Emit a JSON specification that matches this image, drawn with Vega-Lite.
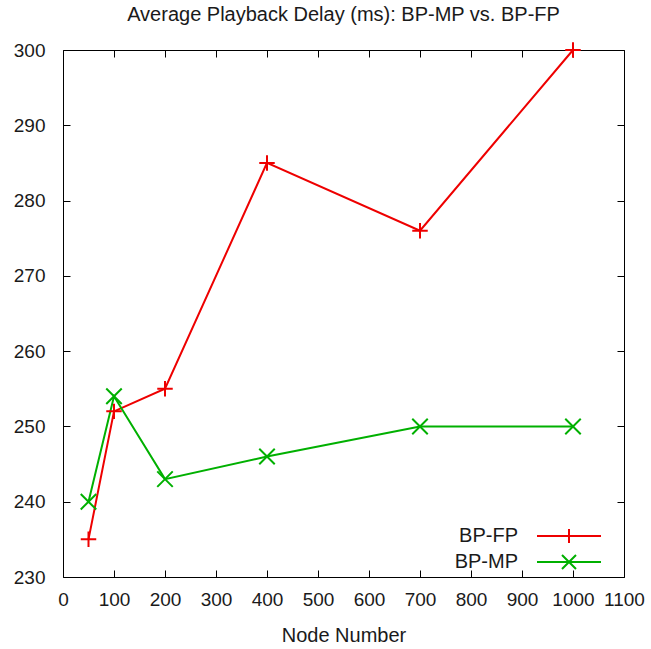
{
  "$schema": "https://vega.github.io/schema/vega-lite/v6.json",
  "width": 561,
  "height": 527,
  "autosize": {"type": "none"},
  "padding": {"left": 63, "top": 50, "right": 27, "bottom": 72},
  "background": "white",
  "title": {
    "text": "Average Playback Delay (ms): BP-MP vs. BP-FP",
    "font": "Liberation Sans",
    "fontSize": 20,
    "fontWeight": "normal",
    "color": "#1a1a1a",
    "anchor": "middle",
    "offset": 13
  },
  "data": {
    "values": [
      {"nodes": 50, "delay": 235, "series": "BP-FP"},
      {"nodes": 100, "delay": 252, "series": "BP-FP"},
      {"nodes": 200, "delay": 255, "series": "BP-FP"},
      {"nodes": 400, "delay": 285, "series": "BP-FP"},
      {"nodes": 700, "delay": 276, "series": "BP-FP"},
      {"nodes": 1000, "delay": 300, "series": "BP-FP"},
      {"nodes": 50, "delay": 240, "series": "BP-MP"},
      {"nodes": 100, "delay": 254, "series": "BP-MP"},
      {"nodes": 200, "delay": 243, "series": "BP-MP"},
      {"nodes": 400, "delay": 246, "series": "BP-MP"},
      {"nodes": 700, "delay": 250, "series": "BP-MP"},
      {"nodes": 1000, "delay": 250, "series": "BP-MP"}
    ]
  },
  "config": {
    "view": {"stroke": null},
    "axis": {
      "grid": false,
      "domainColor": "#000000",
      "domainWidth": 1,
      "tickColor": "#000000",
      "tickSize": -7,
      "tickWidth": 1,
      "labelFont": "Liberation Sans",
      "labelFontSize": 19,
      "labelColor": "#1a1a1a",
      "titleFont": "Liberation Sans",
      "titleFontSize": 20,
      "titleFontWeight": "normal",
      "titleColor": "#1a1a1a"
    }
  },
  "resolve": {"axis": {"x": "independent", "y": "independent"}},
  "layer": [
    {
      "mark": {"type": "line", "strokeWidth": 2},
      "encoding": {
        "x": {
          "field": "nodes",
          "type": "quantitative",
          "scale": {"domain": [0, 1100], "nice": false, "zero": false},
          "axis": {
            "orient": "bottom",
            "title": "Node Number",
            "format": "d",
            "values": [0, 100, 200, 300, 400, 500, 600, 700, 800, 900, 1000, 1100],
            "labelPadding": 20,
            "titlePadding": 16,
            "labelFlush": false
          }
        },
        "y": {
          "field": "delay",
          "type": "quantitative",
          "scale": {"domain": [230, 300], "nice": false, "zero": false},
          "axis": {
            "orient": "left",
            "title": null,
            "values": [230, 240, 250, 260, 270, 280, 290, 300],
            "labelPadding": 25
          }
        },
        "color": {
          "field": "series",
          "type": "nominal",
          "sort": ["BP-FP", "BP-MP"],
          "scale": {"domain": ["BP-FP", "BP-MP"], "range": ["#ee0000", "#00b000"]},
          "legend": {
            "title": null,
            "orient": "none",
            "legendX": 496,
            "legendY": 476,
            "labelFont": "Liberation Sans",
            "labelFontSize": 20,
            "labelColor": "#1a1a1a",
            "labelAlign": "right",
            "labelOffset": -61,
            "symbolSize": 100,
            "symbolStrokeWidth": 2,
            "rowPadding": 4,
            "encode": {
              "symbols": {
                "update": {
                  "shape": {"signal": "datum.value === 'BP-FP' ? 'M-6.4,0H6.4M0,-1.4V1.4' : 'M-6.4,0H6.4M-1.4,-1.4L1.4,1.4M-1.4,1.4L1.4,-1.4'"}
                }
              }
            }
          }
        }
      }
    },
    {
      "transform": [{"filter": "datum.series === 'BP-FP'"}],
      "mark": {"type": "point", "filled": false, "strokeWidth": 2, "opacity": 1, "shape": "M-1,0H1M0,-1V1", "size": 240},
      "encoding": {
        "x": {
          "field": "nodes",
          "type": "quantitative",
          "axis": {
            "orient": "top",
            "title": null,
            "labels": false,
            "values": [0, 100, 200, 300, 400, 500, 600, 700, 800, 900, 1000, 1100]
          }
        },
        "y": {
          "field": "delay",
          "type": "quantitative",
          "axis": {
            "orient": "right",
            "title": null,
            "labels": false,
            "values": [230, 240, 250, 260, 270, 280, 290, 300]
          }
        },
        "color": {"field": "series", "type": "nominal", "legend": null}
      }
    },
    {
      "transform": [{"filter": "datum.series === 'BP-MP'"}],
      "mark": {"type": "point", "filled": false, "strokeWidth": 2, "opacity": 1, "shape": "M-1,-1L1,1M-1,1L1,-1", "size": 240},
      "encoding": {
        "x": {"field": "nodes", "type": "quantitative", "axis": null},
        "y": {"field": "delay", "type": "quantitative", "axis": null},
        "color": {"field": "series", "type": "nominal", "legend": null}
      }
    }
  ]
}
